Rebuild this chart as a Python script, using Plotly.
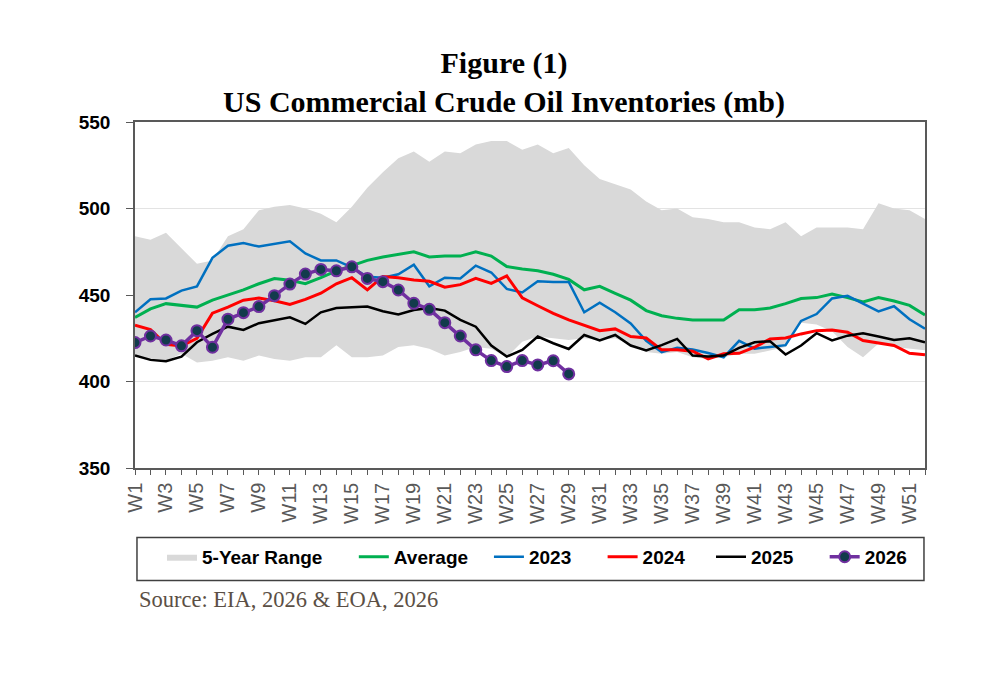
import plotly.graph_objects as go

# weekly labels
weeks = [f"W{i}" for i in range(1, 53)]
week_labels = [w if i % 2 == 0 else "" for i, w in enumerate(weeks)]

# 5-year range (mb)
range_max = [484, 482, 486, 477, 468, 470, 484, 488, 499, 501, 502, 500, 497, 492, 501, 512,
             521, 529, 533, 527, 533, 532, 537, 539, 539, 534, 537, 532, 535, 525, 517, 514,
             511, 504, 499, 500, 495, 494, 492, 492, 489, 488, 492, 484, 489, 489, 489, 488,
             503, 500, 499, 494]
range_min = [415, 412, 412, 416, 411, 412, 414, 412, 415, 413, 412, 414, 414, 421, 414, 414,
             415, 420, 421, 419, 415, 417, 420, 419, 414, 423, 426, 425, 424, 425, 424, 425,
             421, 417, 416, 417, 414, 413, 414, 416, 416, 418, 420, 434, 433, 429, 420, 414,
             422, 420, 419, 418]

avg_5y = [437, 442, 445, 444, 443, 447, 450, 453, 456.5, 459.5, 458.5, 456.5, 460, 464, 467, 470,
          472, 473.5, 475, 472, 472.5, 472.5, 475, 472.5, 466.5, 465, 464, 462, 459, 453, 455, 451,
          447, 441, 438, 436.5, 435.5, 435.5, 435.5, 441.5, 441.5, 442.5, 445, 448, 448.5, 450.5,
          448.5, 446, 448.5, 446.5, 444, 438.5]

y2023 = [440, 447.5, 448, 452.5, 455, 471.5, 478.5, 480, 478, 479.5, 481, 474, 470, 470, 466, 460.5,
         460, 462, 467.5, 455, 460, 459.5, 467, 463, 453.5, 451.5, 458, 457.5, 457.5, 440, 445.5, 440,
         433.5, 423.5, 417, 419.5, 418.5, 416.5, 414, 423.5, 419, 420, 421, 435, 439, 448, 449.5, 445,
         440.5, 443.5, 436, 430.5]

y2024 = [432.5, 430, 421.5, 420.5, 425, 439.5, 443, 447, 448.2, 446.7, 444.5, 447.5, 451, 456.5, 460, 453,
         460.7, 460, 458.7, 457.9, 454.5, 456, 459.6, 456.7, 461, 448.3, 443.8, 439.4, 435.6, 432.3, 429.4,
         430.4, 426, 425.2, 418.3, 418.3, 417.5, 413.1, 416, 416.3, 419.8, 424.6, 425.2, 427.5, 429.4,
         429.8, 428.5, 423.7, 422.1, 420.8, 416.3, 415.4]

y2025 = [415, 412.5, 411.7, 414.4, 422.7, 427.5, 431.7, 429.8, 433.7, 435.2, 437.1, 433.3, 440, 442.5,
         442.9, 443.3, 440.6, 438.8, 441.3, 442.5, 441, 435.6, 431.7, 420.8, 414.4, 418.3, 426, 422.1,
         418.8, 426.9, 423.7, 426.9, 420.8, 417.9, 421, 424.6, 415, 414.4, 415, 419.4, 422.7, 423.3,
         415.6, 420.8, 427.9, 423.7, 426.5, 427.9, 426, 424, 425, 422.7]

y2026 = [422.5, 426.3, 424, 420.6, 429.4, 419.8, 436, 439.8, 443.3, 449.6, 456.3, 462.1, 464.8, 464,
         466.3, 459.6, 457.7, 452.9, 445.2, 441.7, 434, 426.3, 418.3, 412.1, 408.6, 412.1, 409.6, 412,
         404.4]

def pad(n):
    # non-breaking spaces to widen legend entries
    return "\u00a0" * n

fig = go.Figure()

# 5-year range band
fig.add_trace(go.Scatter(x=weeks, y=range_min, mode="lines", line=dict(width=0),
                         showlegend=False, hoverinfo="skip"))
fig.add_trace(go.Scatter(x=weeks, y=range_max, mode="lines", line=dict(width=0),
                         fill="tonexty", fillcolor="#d9d9d9", name="5-Year Range" + pad(5)))

fig.add_trace(go.Scatter(x=weeks, y=avg_5y, mode="lines", name="Average" + pad(3),
                         line=dict(color="#00b050", width=3)))
fig.add_trace(go.Scatter(x=weeks, y=y2023, mode="lines", name="2023" + pad(5),
                         line=dict(color="#0070c0", width=2.5)))
fig.add_trace(go.Scatter(x=weeks, y=y2024, mode="lines", name="2024" + pad(4),
                         line=dict(color="#ff0000", width=3)))
fig.add_trace(go.Scatter(x=weeks, y=y2025, mode="lines", name="2025" + pad(5),
                         line=dict(color="#000000", width=2.5)))
fig.add_trace(go.Scatter(x=weeks[:len(y2026)], y=y2026, mode="lines+markers", name="2026",
                         line=dict(color="#7030a0", width=3.5),
                         marker=dict(size=11, color="#123b4c",
                                     line=dict(color="#7030a0", width=2))))

# page body adds an 8px offset, so margins are shifted to compensate
fig.update_layout(
    width=998, height=673,
    paper_bgcolor="white", plot_bgcolor="white",
    margin=dict(l=127, r=81, t=114, b=213),
    title=dict(text="Figure (1)<br>US Commercial Crude Oil Inventories (mb)",
               x=0.497, xref="container", xanchor="center",
               y=0.903, yref="container", yanchor="bottom",
               font=dict(family="Liberation Serif, serif", size=30, color="#000000",
                         weight="bold")),
    legend=dict(orientation="h", traceorder="normal",
                x=0.0342, y=-0.202, xanchor="left", yanchor="top",
                bgcolor="rgba(0,0,0,0)", borderwidth=0,
                font=dict(family="Liberation Sans, Arial", size=19, color="#000000",
                          weight="bold")),
    # frame around the legend
    shapes=[dict(type="rect", xref="paper", yref="paper",
                 x0=0.0025, x1=0.9987, y0=-0.325, y1=-0.201,
                 line=dict(color="#404040", width=1.5))],
    annotations=[dict(text="Source: EIA, 2026 & EOA, 2026", xref="paper", yref="paper",
                      x=0.003, y=-0.38, xanchor="left", yanchor="middle", showarrow=False,
                      font=dict(family="Liberation Serif, serif", size=22.5, color="#5b4f45"))],
)

fig.update_xaxes(type="category", range=[0, 51], tickmode="array", tickvals=weeks,
                 ticktext=week_labels, tickangle=-90, ticks="outside", ticklen=5,
                 tickcolor="#595959", showline=True, linecolor="#595959", linewidth=1.5,
                 mirror=True, showgrid=False,
                 tickfont=dict(family="Liberation Sans, Arial", size=20, color="#595959"))
fig.update_yaxes(range=[350, 550], dtick=50, ticks="outside", ticklen=7,
                 tickcolor="#595959", showline=True, linecolor="#595959", linewidth=1.5,
                 mirror=True, showgrid=True, gridcolor="#e3e3e3", gridwidth=1,
                 zeroline=False, ticklabelstandoff=12,
                 tickfont=dict(family="Liberation Sans, Arial", size=19, color="#000000",
                               weight="bold"))

fig.write_html("out.html")
